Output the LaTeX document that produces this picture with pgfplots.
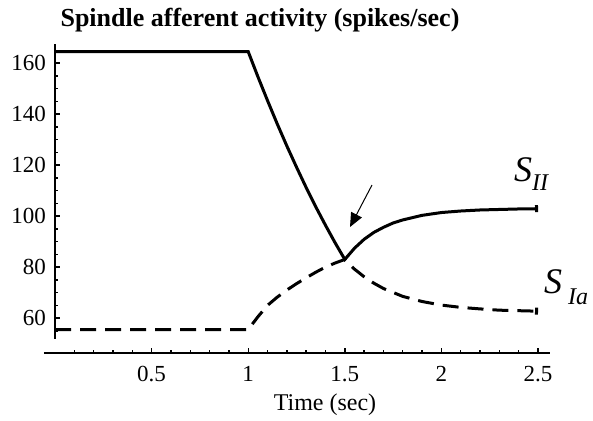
\documentclass[border=0pt]{standalone}
\usepackage{fontspec}
\setmainfont{Liberation Serif}
\usepackage{pgfplots}
\pgfplotsset{compat=1.18}
\usetikzlibrary{arrows.meta}

% Group II afferent (solid)
\pgfplotstableread{
t    s
0.00 164.5
1.00 164.5
1.05 154.7
1.10 145.3
1.15 136.2
1.20 127.5
1.25 119.2
1.30 111.2
1.35 103.6
1.40 96.4
1.45 89.5
1.50 83.0
1.55 87.4
1.60 90.9
1.65 93.6
1.70 95.6
1.75 97.3
1.80 98.5
1.90 100.3
2.00 101.4
2.10 102.0
2.20 102.4
2.30 102.6
2.40 102.8
2.50 102.9
}\sII

% Group Ia afferent (dashed)
\pgfplotstableread{
t    s
0.00 55.5
1.00 55.5
1.05 60.5
1.10 65.0
1.15 68.2
1.20 71.0
1.25 73.5
1.30 75.8
1.35 78.0
1.40 80.0
1.45 81.6
1.50 83.0
1.55 79.2
1.60 76.2
1.65 73.7
1.70 71.6
1.80 68.5
1.90 66.5
2.00 65.1
2.10 64.2
2.20 63.6
2.30 63.1
2.40 62.9
2.50 62.7
}\sIa

\begin{document}
\begin{tikzpicture}
\useasboundingbox (0,0) rectangle (296.5pt,210pt);
\begin{axis}[
  at={(27.5pt,33.5pt)}, anchor=south west,
  scale only axis, width=247.5pt, height=154.5pt,
  xmin=0, xmax=2.562, ymin=46.3, ymax=167.5,
  axis x line=bottom, axis y line=left,
  axis line style={draw=none},
  xtick={0.5,1,1.5,2,2.5},
  xticklabels={0.5,1,1.5,2,2.5},
  ytick={60,80,100,120,140,160},
  minor xtick={0.1,0.2,0.3,0.4,0.6,0.7,0.8,0.9,1.1,1.2,1.3,1.4,1.6,1.7,1.8,1.9,2.1,2.2,2.3,2.4},
  minor ytick={55,65,70,75,85,90,95,105,110,115,125,130,135,145,150,155,165},
  tick align=inside,
  major tick length=2.4pt, minor tick length=1.5pt,
  tick style={black, line width=0.7pt},
  /pgf/number format/assume math mode=true,
  tick label style={font=\fontsize{11.5}{13}\selectfont},
  xticklabel style={yshift=-3pt},
  yticklabel style={xshift=-1pt},
  clip=false,
]
% axis lines: the vertical one stops short of the horizontal one
\draw[line width=0.9pt] (axis cs:0,51.8) -- (axis cs:0,167.5);
\draw[line width=0.9pt] (axis cs:-0.057,46.3) -- (axis cs:2.562,46.3);
\addplot[black, line width=1.5pt, dash pattern=on 8pt off 4.5pt, -{Bar[width=3.5pt]}] table[x=t,y=s] {\sIa};
\addplot[black, line width=1.5pt, -{Bar[width=3.5pt]}] table[x=t,y=s] {\sII};
\end{axis}
\node[font=\fontsize{13}{15}\selectfont\bfseries] at (130pt,200pt) {Spindle afferent activity (spikes/sec)};
\node[font=\fontsize{12}{14}\selectfont] at (162.5pt,7.5pt) {Time (sec)};
\draw[line width=0.5pt, -{Triangle[length=7pt,width=6pt]}] (186pt,117.5pt) -- (175pt,96.5pt);
\node[font=\fontsize{18}{20}\selectfont\itshape] at (261.5pt,125pt) {S};
\node[font=\fontsize{12}{14}\selectfont\itshape] at (270pt,118.5pt) {II};
\node[font=\fontsize{18}{20}\selectfont\itshape] at (276.5pt,69pt) {S};
\node[font=\fontsize{12}{14}\selectfont\itshape] at (289pt,61.5pt) {Ia};
\end{tikzpicture}
\end{document}
